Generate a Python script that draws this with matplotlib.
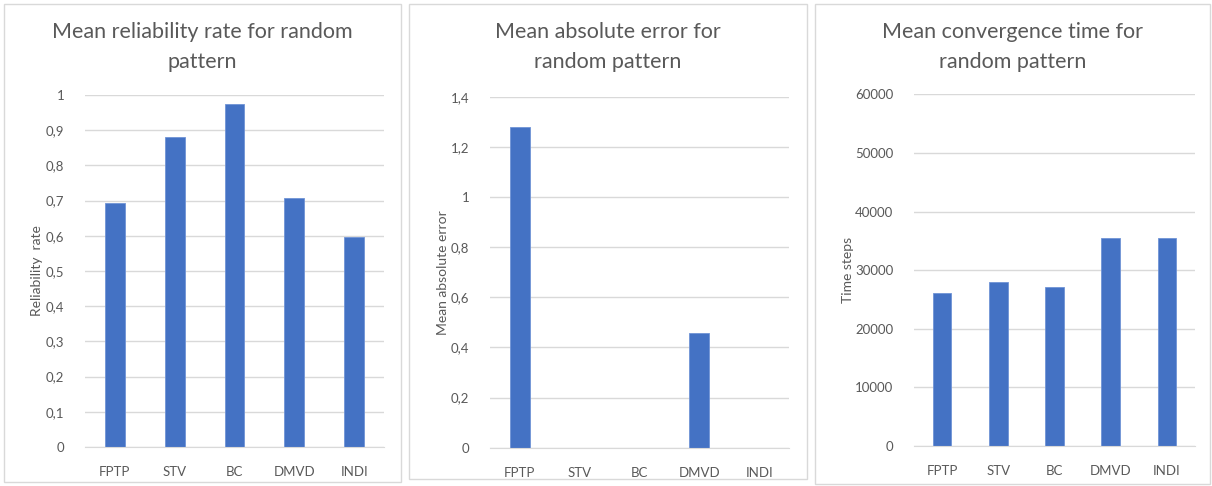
import matplotlib.pyplot as plt
from matplotlib.patches import Rectangle
from matplotlib.ticker import FuncFormatter

methods = ['FPTP', 'STV', 'BC', 'DMVD', 'INDI']
reliability = [0.693, 0.880, 0.974, 0.707, 0.598]
abs_error = [1.280, 0.0, 0.0, 0.456, 0.0]
conv_time = [26050, 28030, 27180, 35430, 35430]

W, H = 1212, 486
bar_color = '#4472C4'
text_color = '#595959'
grid_color = '#D9D9D9'

plt.rcParams['font.family'] = ['Lato', 'DejaVu Sans']

fig = plt.figure(figsize=(W / 100, H / 100), dpi=100)


def px_axes(left, right, top, bottom):
    return fig.add_axes([left / W, (H - bottom) / H, (right - left) / W, (bottom - top) / H])


def comma(v, pos):
    return f'{v:g}'.replace('.', ',')


# panel frames (left, right, top, bottom in pixels)
frames = [(4, 401, 4, 482), (409, 807, 4, 479), (815, 1210, 4, 484)]
for l, r, t, b in frames:
    fig.patches.append(Rectangle((l / W, (H - b) / H), (r - l) / W, (b - t) / H,
                                 transform=fig.transFigure, fill=False,
                                 edgecolor=grid_color, linewidth=1))

panels = [
    dict(box=(85, 384, 95, 447), data=reliability, ymax=1.0, step=0.1,
         title='Mean reliability rate for random\npattern', ylabel='Reliability  rate', ylab_x=37),
    dict(box=(490, 789, 96.7, 447.7), data=abs_error, ymax=1.4, step=0.2,
         title='Mean absolute error for\nrandom pattern', ylabel='Mean absolute error', ylab_x=443),
    dict(box=(914, 1195, 94.3, 446), data=conv_time, ymax=60000, step=10000,
         title='Mean convergence time for\nrandom pattern', ylabel='Time steps', ylab_x=848),
]

for p, (fl, fr, ft, fb) in zip(panels, frames):
    l, r, t, b = p['box']
    ax = px_axes(l, r, t, b)
    ax.bar(range(len(methods)), p['data'], width=0.33, color=bar_color,
           edgecolor='#6F93D6', linewidth=0.6, zorder=3)
    ax.set_xlim(-0.5, len(methods) - 0.5)
    ax.set_ylim(0, p['ymax'])
    n = int(round(p['ymax'] / p['step']))
    ax.set_yticks([i * p['step'] for i in range(n + 1)])
    ax.yaxis.set_major_formatter(FuncFormatter(comma))
    ax.set_xticks(range(len(methods)))
    ax.set_xticklabels(methods)
    ax.tick_params(axis='y', length=0, pad=15, labelsize=9.5, labelcolor=text_color)
    ax.tick_params(axis='x', length=0, pad=14, labelsize=9.5, labelcolor=text_color)
    ax.grid(axis='y', color=grid_color, linewidth=1, zorder=0)
    for s in ['top', 'right', 'left']:
        ax.spines[s].set_visible(False)
    ax.spines['bottom'].set_color(grid_color)
    ax.spines['bottom'].set_zorder(4)
    ax.set_facecolor('none')

    cx = (fl + fr) / 2
    fig.text(cx / W, (H - 47) / H, p['title'], ha='center', va='center',
             fontsize=15.5, color=text_color, linespacing=1.6)
    fig.text(p['ylab_x'] / W, (H - (t + b) / 2) / H, p['ylabel'], rotation=90,
             ha='center', va='center', fontsize=10, color=text_color)

fig.savefig('out.png', dpi=100, facecolor='white')
